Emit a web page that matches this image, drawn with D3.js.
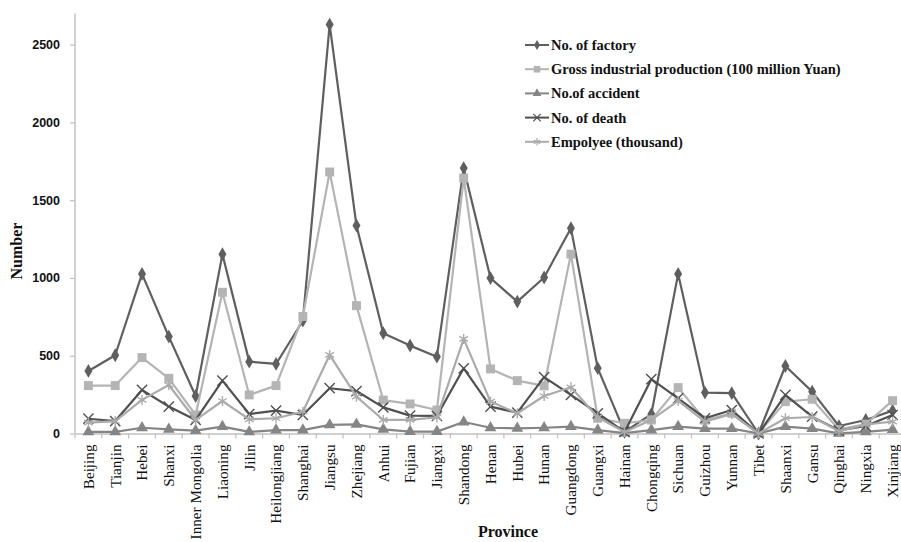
<!DOCTYPE html>
<html>
<head>
<meta charset="utf-8">
<script src="https://cdn.jsdelivr.net/npm/d3@7"></script>
<style>
  body { margin: 0; background: #fff; }
  svg { display: block; }
</style>
</head>
<body>
<svg></svg>
<script>
// data
const provinces = ["Beijing", "Tianjin", "Hebei", "Shanxi", "Inner Mongolia", "Liaoning", "Jilin",
  "Heilongjiang", "Shanghai", "Jiangsu", "Zhejiang", "Anhui", "Fujian", "Jiangxi", "Shandong",
  "Henan", "Hubei", "Hunan", "Guangdong", "Guangxi", "Hainan", "Chongqing", "Sichuan", "Guizhou",
  "Yunnan", "Tibet", "Shaanxi", "Gansu", "Qinghai", "Ningxia", "Xinjiang"];

const factory = [402, 503, 1026, 623, 241, 1153, 462, 447, 725, 2629, 1337, 645, 565, 494, 1706,
  999, 848, 1003, 1320, 420, 10, 125, 1026, 263, 259, 0, 434, 269, 48, 87, 147];
const gross = [308, 308, 488, 355, 119, 908, 248, 308, 752, 1681, 822, 215, 190, 151, 1642,
  415, 340, 306, 1153, 98, 66, 87, 295, 87, 130, 0, 205, 220, 25, 60, 211];
const accident = [10, 10, 37, 27, 18, 44, 10, 22, 22, 55, 59, 27, 12, 12, 74,
  37, 33, 37, 44, 22, 2, 22, 44, 31, 31, 0, 44, 31, 1, 10, 25];
const death = [95, 80, 280, 173, 87, 340, 125, 147, 119, 291, 273, 168, 115, 113, 419,
  173, 134, 362, 248, 130, 10, 349, 226, 98, 151, 0, 248, 108, 20, 48, 119];
const employee = [70, 80, 216, 312, 87, 209, 91, 98, 140, 505, 237, 87, 87, 104, 608,
  205, 130, 241, 297, 104, 10, 87, 210, 76, 125, 0, 98, 106, 15, 58, 76];

const seriesNames = ["No. of factory", "Gross industrial production (100 million Yuan)",
  "No.of accident", "No. of death", "Empolyee (thousand)"];
const yTicks = [0, 500, 1000, 1500, 2000, 2500];

const series = [
  { name: seriesNames[0], values: factory, color: "#5f5f5f", symbol: d3.symbolDiamond, size: 55, fill: true },
  { name: seriesNames[1], values: gross, color: "#b4b4b4", symbol: d3.symbolSquare, size: 80, fill: true },
  { name: seriesNames[2], values: accident, color: "#858585", symbol: d3.symbolTriangle, size: 60, fill: true },
  { name: seriesNames[3], values: death, color: "#505050", symbol: d3.symbolTimes, size: 70, fill: false },
  { name: seriesNames[4], values: employee, color: "#ababab", symbol: d3.symbolAsterisk, size: 70, fill: false },
];

const W = 901, H = 542;
const svg = d3.select("svg").attr("width", W).attr("height", H);

const x = d3.scaleBand().domain(provinces).range([75, 906]).padding(0);
const y = d3.scaleLinear().domain([0, 2700]).range([433.5, 13.5]);
const cx = (p) => x(p) + x.bandwidth() / 2;

// y axis
const yAxis = svg.append("g")
  .attr("transform", "translate(75,0)")
  .call(d3.axisLeft(y).tickValues(yTicks).tickSize(5).tickPadding(10).tickFormat(d3.format("d")));
yAxis.select(".domain").attr("stroke", "#c0c0c0").attr("stroke-width", 1.5).attr("d", `M0,${y(2700)}V${y(0)}`);
yAxis.selectAll(".tick line").attr("stroke", "#c0c0c0").attr("stroke-width", 1.2);
yAxis.selectAll(".tick text")
  .attr("fill", "#111")
  .style("font-family", "Liberation Sans, Arial, sans-serif")
  .style("font-size", "12.5px")
  .style("font-weight", "bold");

// x axis
const xAxis = svg.append("g")
  .attr("transform", `translate(0,${y(0)})`)
  .call(d3.axisBottom(x).tickSize(0).tickPadding(0));
xAxis.select(".domain").attr("stroke", "#c0c0c0").attr("stroke-width", 1.5);
xAxis.selectAll(".tick text")
  .attr("transform", "rotate(-90)")
  .attr("text-anchor", "end")
  .attr("x", -11)
  .attr("y", 0)
  .attr("dy", "0.35em")
  .attr("fill", "#111")
  .style("font-family", "Liberation Serif, Times New Roman, serif")
  .style("font-size", "15.2px");
// ticks between categories
xAxis.selectAll(".bound")
  .data(provinces.concat(["__end"]))
  .join("line")
  .attr("class", "bound")
  .attr("x1", (d) => d === "__end" ? x.range()[1] : x(d))
  .attr("x2", (d) => d === "__end" ? x.range()[1] : x(d))
  .attr("y1", 0)
  .attr("y2", 5)
  .attr("stroke", "#c0c0c0")
  .attr("stroke-width", 1.2);

// titles
svg.append("text")
  .attr("transform", `translate(22,${251}) rotate(-90)`)
  .attr("text-anchor", "middle")
  .style("font-family", "Liberation Serif, Times New Roman, serif")
  .style("font-size", "16px")
  .style("font-weight", "bold")
  .attr("fill", "#111")
  .text("Number");

svg.append("text")
  .attr("x", 508)
  .attr("y", 537)
  .attr("text-anchor", "middle")
  .style("font-family", "Liberation Serif, Times New Roman, serif")
  .style("font-size", "16px")
  .style("font-weight", "bold")
  .attr("fill", "#111")
  .text("Province");

// lines + markers
const line = d3.line().x((d, i) => cx(provinces[i])).y((d) => y(d));

const group = svg.selectAll(".series")
  .data(series)
  .join("g")
  .attr("class", "series");

group.append("path")
  .attr("d", (s) => line(s.values))
  .attr("fill", "none")
  .attr("stroke", (s) => s.color)
  .attr("stroke-width", 2.2)
  .attr("stroke-linejoin", "round");

group.each(function (s) {
  d3.select(this).selectAll(".mk")
    .data(s.values)
    .join("path")
    .attr("class", "mk")
    .attr("transform", (d, i) => `translate(${cx(provinces[i])},${y(d)})`)
    .attr("d", d3.symbol().type(s.symbol).size(s.size))
    .attr("fill", s.fill ? s.color : "none")
    .attr("stroke", s.color)
    .attr("stroke-width", s.fill ? 0 : 1.4);
});

// legend
const legend = svg.append("g").attr("transform", "translate(525,45)");
const item = legend.selectAll(".item")
  .data(series)
  .join("g")
  .attr("class", "item")
  .attr("transform", (d, i) => `translate(0,${i * 24.2})`);
item.append("line")
  .attr("x1", 0).attr("x2", 24)
  .attr("stroke", (s) => s.color)
  .attr("stroke-width", 2);
item.append("path")
  .attr("transform", "translate(12,0)")
  .attr("d", (s) => d3.symbol().type(s.symbol).size(s.size * 0.55)())
  .attr("fill", (s) => s.fill ? s.color : "none")
  .attr("stroke", (s) => s.color)
  .attr("stroke-width", (s) => s.fill ? 0 : 1.2);
item.append("text")
  .attr("x", 26)
  .attr("dy", "0.35em")
  .style("font-family", "Liberation Serif, Times New Roman, serif")
  .style("font-size", "14.5px")
  .style("font-weight", "bold")
  .attr("fill", "#111")
  .text((s) => s.name);
</script>
</body>
</html>
